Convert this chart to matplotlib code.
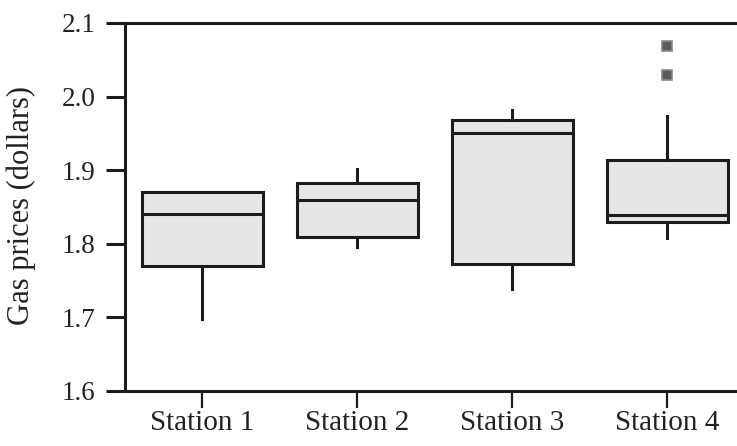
import matplotlib
matplotlib.use("Agg")
import matplotlib.pyplot as plt

stations = ["Station 1", "Station 2", "Station 3", "Station 4"]
whislo = [1.698, 1.796, 1.739, 1.808]
q1 = [1.770, 1.809, 1.772, 1.829]
med = [1.840, 1.859, 1.950, 1.839]
q3 = [1.870, 1.883, 1.968, 1.914]
whishi = [1.870, 1.901, 1.982, 1.973]
fliers = [[], [], [], [2.030, 2.069]]
yticks = [1.6, 1.7, 1.8, 1.9, 2.0, 2.1]

plt.rcParams['font.family'] = ['Liberation Serif', 'DejaVu Serif']

fig = plt.figure(figsize=(7.37, 4.46), dpi=100)
ax = fig.add_axes([125/737, 55/446, 612/737, 368/446])

stats = []
for i in range(len(stations)):
    stats.append(dict(whislo=whislo[i], q1=q1[i], med=med[i], q3=q3[i],
                      whishi=whishi[i], fliers=fliers[i], label=stations[i]))

ink = "#1c1c1c"
lw = 2.2
ax.bxp(stats, positions=[1, 2, 3, 4], widths=0.78, patch_artist=True,
       showcaps=False,
       boxprops=dict(facecolor="#e6e6e6", edgecolor=ink, linewidth=lw),
       medianprops=dict(color=ink, linewidth=lw),
       whiskerprops=dict(color=ink, linewidth=lw),
       flierprops=dict(marker='s', markersize=6.5, markerfacecolor="#5a5a5a",
                       markeredgecolor="#8a8a8a", markeredgewidth=1.2))

ax.set_xlim(0.5, 4.45)
ax.set_ylim(1.6, 2.1)
ax.set_yticks(yticks)
ax.set_yticklabels([f"{v:.1f}" for v in yticks], fontsize=19.5)
ax.set_xticks([1, 2, 3, 4])
ax.set_xticklabels(stations, fontsize=21)

for s in ["left", "top", "bottom"]:
    ax.spines[s].set_linewidth(lw)
    ax.spines[s].set_color(ink)
ax.spines["right"].set_visible(False)

ax.tick_params(axis='y', length=13.5, width=lw, color=ink, pad=8, labelcolor="#222222")
ax.tick_params(axis='x', length=12, width=1.6, color=ink, pad=2, labelcolor="#222222")

ax.set_ylabel("Gas prices (dollars)", fontsize=22, color="#222222")
ax.yaxis.set_label_coords(-0.145, 0.503)

fig.savefig("out.png", dpi=100)
